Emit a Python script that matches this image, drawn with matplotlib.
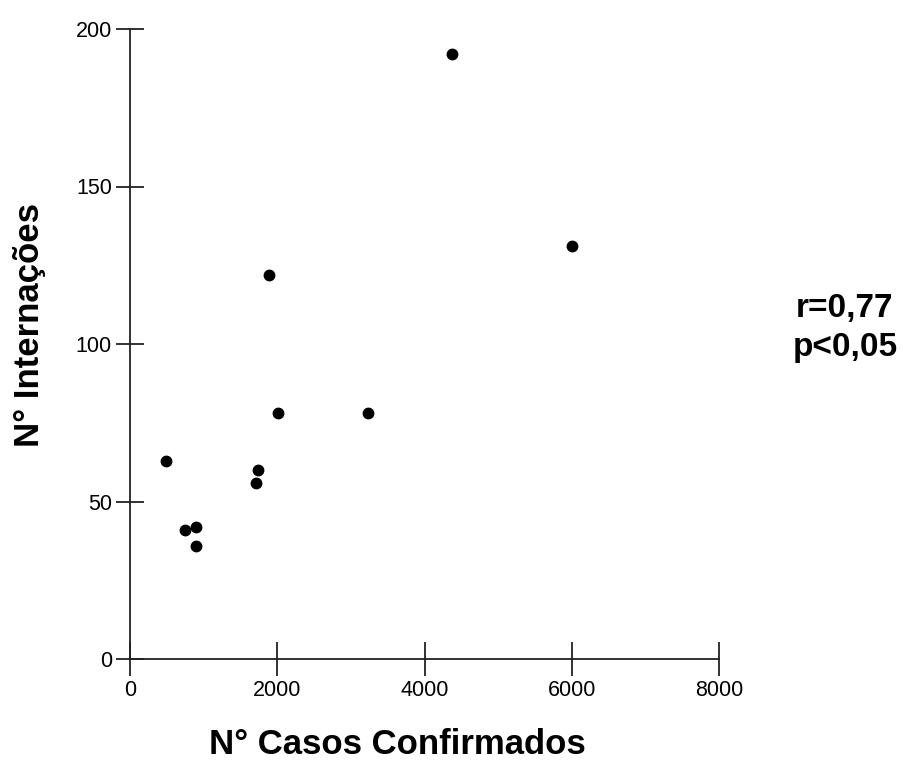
import matplotlib
matplotlib.use("Agg")
import matplotlib.pyplot as plt

plt.rcParams['font.family'] = ['Liberation Sans', 'DejaVu Sans']

# Confirmed cases vs. hospitalisations
casos = [485, 747, 897, 897, 1708, 1743, 1889, 2006, 3238, 4371, 6010]
internacoes = [63, 41, 42, 36, 56, 60, 122, 78, 78, 192, 131]

x_ticks = [0, 2000, 4000, 6000, 8000]
y_ticks = [0, 50, 100, 150, 200]

fig = plt.figure(figsize=(9.04, 7.6), dpi=100)
ax = fig.add_axes([130 / 904, 101 / 760, 589 / 904, 630 / 760])

ax.plot(casos, internacoes, linestyle='none', marker='o', markersize=7.5,
        color='black', clip_on=False)

ax.set_xlim(0, 8000)
ax.set_ylim(0, 200)
ax.set_xticks(x_ticks)
ax.set_yticks(y_ticks)

for side in ('top', 'right'):
    ax.spines[side].set_visible(False)
for side in ('left', 'bottom'):
    ax.spines[side].set_linewidth(1.3)
    ax.spines[side].set_color('#222222')

ax.tick_params(axis='x', direction='inout', length=24, width=1.3,
               labelsize=15.5, pad=3, color='#222222')
ax.tick_params(axis='y', direction='inout', length=20, width=1.3,
               labelsize=15.5, pad=3, color='#222222')

ax.set_xlabel('N° Casos Confirmados', fontsize=25, fontweight='bold',
              va='center')
ax.xaxis.set_label_coords((397 - 130) / 589, (659 - 745) / 630)
ax.set_ylabel('N° Internações', fontsize=25, fontweight='bold',
              va='center', ha='center')
ax.yaxis.set_label_coords((30 - 130) / 589, (659 - 325) / 630)

fig.text(845 / 904, (760 - 328) / 760, 'r=0,77\np<0,05', fontsize=24,
         fontweight='bold', ha='center', va='center', multialignment='center',
         linespacing=1.3)

fig.savefig('out.png', dpi=100, facecolor='white')
